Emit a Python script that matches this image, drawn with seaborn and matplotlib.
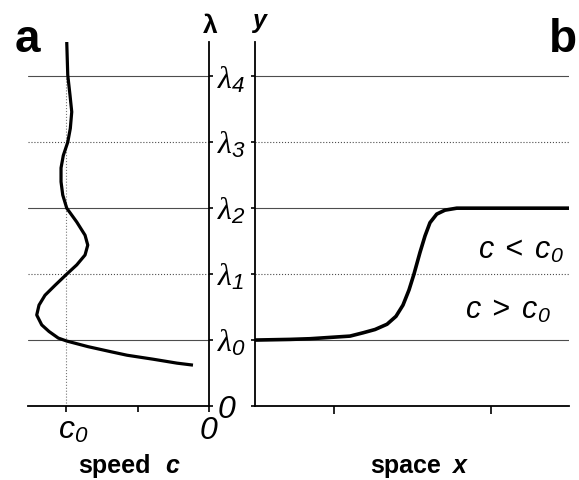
import matplotlib
matplotlib.use("Agg")
import matplotlib.pyplot as plt
import matplotlib.transforms as mtransforms
import seaborn as sns
import pandas as pd

# ---- data ----
# panel a: speed c (in units of c0) versus lambda
speed_c = [0.995, 0.988, 0.972, 0.960, 0.970, 0.988, 1.019, 1.035, 1.035, 1.023,
           0.995, 0.925, 0.867, 0.848, 0.867, 0.925, 0.995, 1.077, 1.147, 1.189,
           1.205, 1.170, 1.119, 1.054, 0.995, 0.846, 0.680, 0.573, 0.392, 0.224,
           0.112]
lam_vals = [5.52, 5.02, 4.71, 4.46, 4.21, 4.00, 3.80, 3.61, 3.40, 3.20,
            3.00, 2.79, 2.59, 2.44, 2.29, 2.14, 2.00, 1.83, 1.68, 1.53,
            1.38, 1.23, 1.13, 1.03, 0.985, 0.90, 0.82, 0.77, 0.71, 0.65,
            0.62]
# panel b: y versus space x
space_x = [0.0, 0.446, 0.70, 0.955, 1.21, 1.376, 1.529, 1.682, 1.796, 1.885,
           1.962, 2.025, 2.102, 2.166, 2.229, 2.315, 2.42, 2.57, 2.87, 4.0]
space_y = [1.0, 1.01, 1.02, 1.04, 1.06, 1.11, 1.16, 1.24, 1.36, 1.53,
           1.76, 2.0, 2.33, 2.58, 2.78, 2.91, 2.97, 3.0, 3.0, 3.0]

level_pos = [1, 2, 3, 4, 5]
level_labels = [r"$\lambda_{0}$", r"$\lambda_{1}$", r"$\lambda_{2}$",
                r"$\lambda_{3}$", r"$\lambda_{4}$"]
level_styles = ["-", ":", "-", ":", "-"]

sns.set_style("ticks")
plt.rcParams["font.family"] = ["Liberation Sans", "DejaVu Sans"]
plt.rcParams["text.color"] = "black"
plt.rcParams["axes.edgecolor"] = "black"
plt.rcParams["xtick.color"] = "black"
plt.rcParams["ytick.color"] = "black"
plt.rcParams["axes.labelcolor"] = "black"
plt.rcParams["mathtext.fontset"] = "custom"
plt.rcParams["mathtext.rm"] = "Liberation Sans:italic"
plt.rcParams["mathtext.it"] = "Liberation Serif:italic"
plt.rcParams["mathtext.sf"] = "Liberation Sans:italic"
plt.rcParams["mathtext.bf"] = "Liberation Sans:bold"

W, H = 579, 480
fig = plt.figure(figsize=(W / 100, H / 100), dpi=100)
axL = fig.add_axes([28 / W, 74 / H, 181 / W, 364 / H])
axR = fig.add_axes([255 / W, 74 / H, 314 / W, 364 / H])

df_a = pd.DataFrame({"c": speed_c, "lam": lam_vals})
df_b = pd.DataFrame({"x": space_x, "y": space_y})

line_col = "#4d4d4d"
for pos, ls in zip(level_pos, level_styles):
    for ax in (axL, axR):
        ax.axhline(pos, color=line_col, lw=0.8, ls=ls, zorder=1)
axL.vlines(1.0, 0, 5, color="#777777", lw=0.8, ls=":", zorder=1)

ln_kw = dict(solid_joinstyle="round", solid_capstyle="butt")
sns.lineplot(data=df_a, x="c", y="lam", sort=False, estimator=None,
             color="black", lw=2.3, ax=axL, zorder=3, **ln_kw)
sns.lineplot(data=df_b, x="x", y="y", sort=False, estimator=None,
             color="black", lw=2.6, ax=axR, zorder=3, **ln_kw)

ymax = 5.52
# ----- left axes -----
axL.set_xlim(1.266, 0)
axL.set_ylim(0, ymax)
axL.spines["left"].set_visible(False)
axL.spines["top"].set_visible(False)
for s in ("right", "bottom"):
    axL.spines[s].set_linewidth(1.3)
axL.yaxis.tick_right()
axL.set_yticks([0] + level_pos)
axL.set_yticklabels([r"$\mathit{0}$"] + level_labels, fontsize=23)
axL.tick_params(axis="y", direction="out", length=3, width=1.2, pad=3)
axL.set_xticks([1.0, 0.5, 0.0])
axL.set_xticklabels([r"$\mathrm{c}_{0}$", "", r"$\mathit{0}$"], fontsize=23)
axL.tick_params(axis="x", direction="out", length=4, width=1.2, pad=3)
axL.set_xlabel("")
axL.set_ylabel("")
shift = mtransforms.ScaledTranslation(7 / 100, 0, fig.dpi_scale_trans)
for tk in axL.xaxis.get_major_ticks()[:1]:
    tk.label1.set_transform(tk.label1.get_transform() + shift)

# ----- right axes -----
axR.set_xlim(0, 4)
axR.set_ylim(0, ymax)
axR.spines["right"].set_visible(False)
axR.spines["top"].set_visible(False)
for s in ("left", "bottom"):
    axR.spines[s].set_linewidth(1.3)
axR.set_yticks([0] + level_pos)
axR.set_yticklabels([])
axR.tick_params(axis="y", direction="out", length=3, width=1.2)
axR.set_xticks([1, 3])
axR.set_xticklabels([])
axR.tick_params(axis="x", direction="out", length=6, width=1.2)
axR.set_xlabel("")
axR.set_ylabel("")

axR.text(2.84, 2.24, r"$\mathrm{c\ <\ c}_{0}$", fontsize=22, va="baseline", ha="left")
axR.text(2.675, 1.32, r"$\mathrm{c\ >\ c}_{0}$", fontsize=22, va="baseline", ha="left")

# ----- titles and labels -----
fig.text(15 / W, 1 - 52 / H, "a", fontsize=33, fontweight="bold", va="baseline")
fig.text(549 / W, 1 - 52 / H, "b", fontsize=33, fontweight="bold", va="baseline")
fig.text(210 / W, 1 - 33 / H, "λ", fontsize=19, fontweight="bold", va="baseline", ha="center")
fig.text(259 / W, 1 - 28 / H, "y", fontsize=18, fontweight="bold", style="italic",
         va="baseline", ha="center")
fig.text(78 / W, 1 - 473 / H, "speed", fontsize=18, fontweight="bold", va="baseline")
fig.text(165 / W, 1 - 473 / H, "c", fontsize=18, fontweight="bold", style="italic", va="baseline")
fig.text(370 / W, 1 - 473 / H, "space", fontsize=18, fontweight="bold", va="baseline")
fig.text(452 / W, 1 - 473 / H, "x", fontsize=18, fontweight="bold", style="italic", va="baseline")

fig.savefig("out.png", dpi=100)
